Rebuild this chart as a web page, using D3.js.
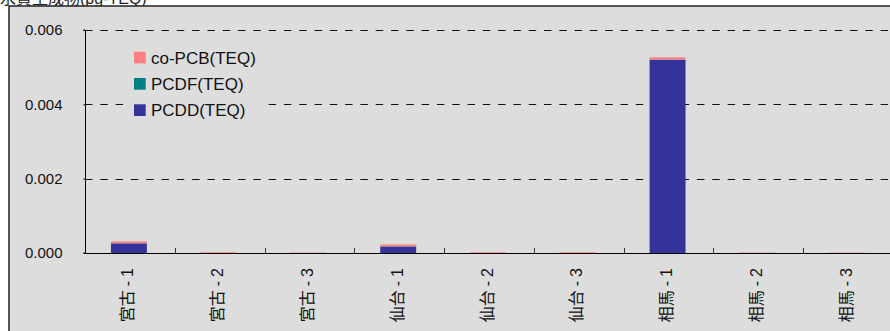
<!DOCTYPE html>
<html><head><meta charset="utf-8">
<script src="https://cdn.jsdelivr.net/npm/d3@7"></script>
<style>
html,body{margin:0;padding:0;background:#fff;}
svg{display:block;font-family:"Liberation Sans",Arial,"Noto Sans CJK JP",sans-serif;}
</style></head>
<body><svg id="c" width="890" height="331"></svg>
<script>
const categories = ["宮古-1","宮古-2","宮古-3","仙台-1","仙台-2","仙台-3","相馬-1","相馬-2","相馬-3"];
const seriesNames = ["PCDD(TEQ)","PCDF(TEQ)","co-PCB(TEQ)"];
const pcdd  = [0.000258,0.000001,0.000002,0.000175,0.000001,0.000001,0.0052,0.000002,0.000002];
const pcdf  = [0.000004,0.000001,0.000001,0.000003,0.000001,0.000001,0.000005,0.000001,0.000001];
const copcb = [0.000050,0.000020,0.000008,0.000050,0.000020,0.000020,0.000060,0.000008,0.000008];
const yTicks = [0,0.002,0.004,0.006];
const colors = ["#333399","#008080","#FF8080"];
const titleText = "水質生成物(pg-TEQ)";

const svg = d3.select("#c");
// title (mostly clipped at top, as in the reference)
svg.append("text").attr("x",0).attr("y",4).attr("font-size",16).attr("fill","#222").text(titleText);
// outer frame
svg.append("rect").attr("x",9).attr("y",6).attr("width",900).attr("height",400)
  .attr("fill","#DDDDDD").attr("stroke","#222").attr("stroke-width",1.5);

const x0 = 85, x1 = 893, yTop = 30, yBot = 253;
const x = d3.scaleBand().domain(categories).range([x0,x1]).padding(0);
const y = d3.scaleLinear().domain([0,0.006]).range([yBot,yTop]);

// gridlines
svg.append("g").selectAll("line").data(yTicks.filter(d=>d>0)).join("line")
  .attr("x1",x0).attr("x2",x1).attr("y1",d=>Math.round(y(d))+0.5).attr("y2",d=>Math.round(y(d))+0.5)
  .attr("stroke","#111").attr("stroke-width",1).attr("stroke-dasharray","7.5,7.8");

// stacked bars
const rows = categories.map((c,i)=>({cat:c, PCDD:pcdd[i], PCDF:pcdf[i], COPCB:copcb[i]}));
const stack = d3.stack().keys(["PCDD","PCDF","COPCB"])(rows);
const bw = x.bandwidth()*0.4;
svg.append("g").selectAll("g").data(stack).join("g").attr("fill",(d,i)=>colors[i])
  .selectAll("rect").data(d=>d).join("rect")
  .attr("x",d=>x(d.data.cat)+x.bandwidth()/2-bw/2 - 1)
  .attr("width",bw)
  .attr("y",d=>y(d[1]))
  .attr("height",d=>y(d[0])-y(d[1]));

// y axis
const yAxis = d3.axisLeft(y).tickValues(yTicks).tickFormat(d3.format(".3f")).tickSize(2).tickPadding(21);
const gy = svg.append("g").attr("transform",`translate(${x0+0.5},0)`).call(yAxis);
gy.select(".domain").attr("stroke","#000").attr("d",`M-2,${yTop}H0V${yBot}H-2`);
gy.selectAll(".tick line").attr("stroke","#000");
gy.selectAll("text").attr("font-size",15).attr("fill","#111").attr("font-family","Liberation Sans, Arial, sans-serif");

// x axis baseline and inner ticks
svg.append("line").attr("x1",x0).attr("x2",x1).attr("y1",yBot+0.5).attr("y2",yBot+0.5).attr("stroke","#000").attr("stroke-width",1.2);
svg.append("g").selectAll("line").data(categories.slice(1)).join("line")
  .attr("x1",d=>Math.round(x(d))+0.5).attr("x2",d=>Math.round(x(d))+0.5)
  .attr("y1",yBot).attr("y2",yBot-5).attr("stroke","#333");

// category labels (rotated), hyphen spaced like the reference font
const lab = svg.append("g").selectAll("text").data(categories).join("text")
  .attr("transform",d=>`translate(${x(d)+x.bandwidth()/2-2},268) rotate(-90)`)
  .attr("text-anchor","end").attr("dy","0.35em").attr("font-size",16).attr("fill","#111");
lab.each(function(d){
  const parts = d.split("-");
  const t = d3.select(this);
  t.append("tspan").text(parts[0]);
  t.append("tspan").attr("dx",4).text("-");
  t.append("tspan").attr("dx",4).text(parts[1]);
});

// legend
const leg = svg.append("g");
leg.append("rect").attr("x",125).attr("y",42).attr("width",142).attr("height",80).attr("fill","#DDDDDD");
const legItems = [{n:seriesNames[2],c:colors[2]},{n:seriesNames[1],c:colors[1]},{n:seriesNames[0],c:colors[0]}];
const lg = leg.selectAll("g").data(legItems).join("g").attr("transform",(d,i)=>`translate(134,${51.7+i*26.3})`);
lg.append("rect").attr("width",11.7).attr("height",11.7).attr("fill",d=>d.c);
lg.append("text").attr("x",17).attr("y",5.9).attr("dy","0.36em").attr("font-size",17).attr("fill","#111").text(d=>d.n);
</script></body></html>
